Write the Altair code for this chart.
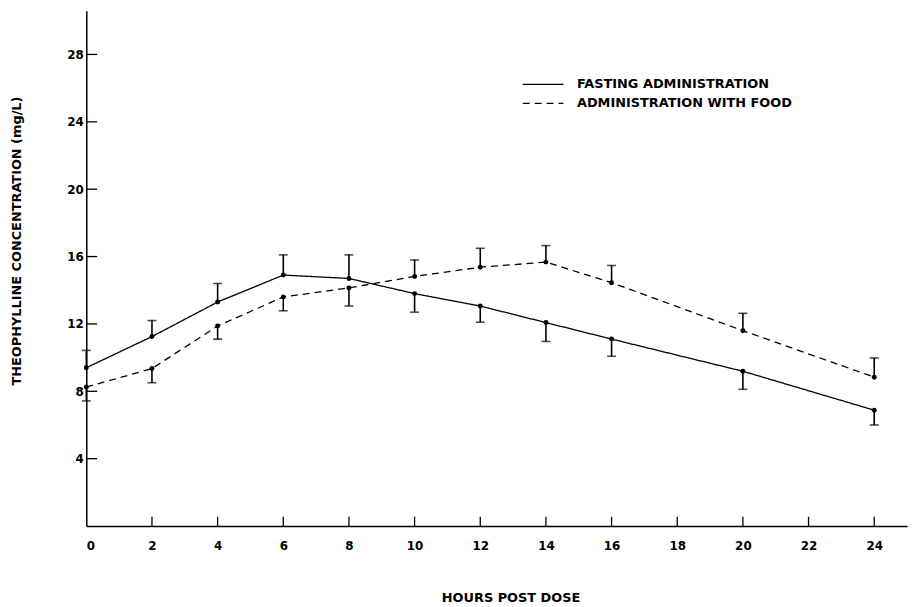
import altair as alt
import pandas as pd

# ---- data ----
hours = [0, 2, 4, 6, 8, 10, 12, 14, 16, 20, 24]
fasting = [9.4, 11.25, 13.3, 14.9, 14.7, 13.8, 13.06, 12.08, 11.1, 9.19, 6.88]
fasting_bar_end = [10.43, 12.2, 14.4, 16.1, 16.1, 12.7, 12.1, 10.96, 10.08, 8.12, 6.0]
food = [8.25, 9.35, 11.88, 13.6, 14.14, 14.82, 15.37, 15.67, 14.45, 11.6, 8.84]
food_bar_end = [7.43, 8.51, 11.1, 12.78, 13.06, 15.8, 16.49, 16.65, 15.47, 12.63, 9.98]

series_names = ["FASTING ADMINISTRATION", "ADMINISTRATION WITH FOOD"]
y_tick_values = [4, 8, 12, 16, 20, 24, 28]
x_tick_values = [2, 4, 6, 8, 10, 12, 14, 16, 18, 20, 22, 24]
x_label_values = [0] + x_tick_values

FONT = "DejaVu Sans"

rows = []
for h, m, e in zip(hours, fasting, fasting_bar_end):
    rows.append({"hours": h, "conc": m, "bar_end": e, "series": series_names[0]})
for h, m, e in zip(hours, food, food_bar_end):
    rows.append({"hours": h, "conc": m, "bar_end": e, "series": series_names[1]})
df = pd.DataFrame(rows)

ytick_df = pd.DataFrame({"v": y_tick_values, "x0": 0.0, "x1": 0.33})
xtick_df = pd.DataFrame({"v": x_tick_values, "y0": 0.0, "y1": 0.55})

xscale = alt.Scale(domain=[0, 25], nice=False, zero=False)
yscale = alt.Scale(domain=[0, 30.6], nice=False, zero=False)

x_axis = alt.Axis(
    values=x_label_values, tickSize=0, grid=False, labelPadding=15,
    domainColor="black", domainWidth=1.5,
    labelFont=FONT, labelFontWeight="bold", labelFontSize=12, labelColor="black",
    title="HOURS POST DOSE", titleFont=FONT, titleFontWeight="bold", titleFontSize=13,
    titleColor="black", titleX=428, titleY=66, titleAnchor="middle",
)
y_axis = alt.Axis(
    values=y_tick_values, tickSize=0, grid=False, labelPadding=3,
    domainColor="black", domainWidth=1.5,
    labelFont=FONT, labelFontWeight="bold", labelFontSize=12, labelColor="black",
    title="THEOPHYLLINE CONCENTRATION (mg/L)", titleFont=FONT, titleFontWeight="bold",
    titleFontSize=13, titleColor="black", titleX=-70, titleY=232, titleAngle=-90,
    titleAlign="center", titleBaseline="middle",
)

base = alt.Chart(df)

lines = base.mark_line(color="black", strokeWidth=1.3).encode(
    x=alt.X("hours:Q", scale=xscale, axis=x_axis),
    y=alt.Y("conc:Q", scale=yscale, axis=y_axis),
    strokeDash=alt.StrokeDash(
        "series:N",
        scale=alt.Scale(domain=series_names, range=[[1, 0], [7, 5]]),
        legend=alt.Legend(
            orient="none", legendX=439, legendY=68, title=None,
            symbolType="M-1,0H7", symbolSize=105, symbolStrokeColor="black",
            symbolFillColor="transparent",
            symbolStrokeWidth=1.3, labelFont=FONT, labelFontWeight="bold",
            labelFontSize=13, labelColor="black", labelOffset=43, labelLimit=400,
            rowPadding=5,
        ),
    ),
    detail="series:N",
)

points = base.mark_circle(color="black", size=25, opacity=1).encode(
    x=alt.X("hours:Q", scale=xscale), y=alt.Y("conc:Q", scale=yscale)
)

bars = base.mark_rule(color="black", strokeWidth=1.6).encode(
    x=alt.X("hours:Q", scale=xscale), y=alt.Y("conc:Q", scale=yscale), y2="bar_end:Q"
)

caps = base.mark_tick(color="black", orient="horizontal", size=9, thickness=1.6).encode(
    x=alt.X("hours:Q", scale=xscale), y=alt.Y("bar_end:Q", scale=yscale)
)

yticks = alt.Chart(ytick_df).mark_rule(color="black", strokeWidth=1.3).encode(
    x=alt.X("x0:Q", scale=xscale), x2="x1:Q", y=alt.Y("v:Q", scale=yscale)
)
xticks = alt.Chart(xtick_df).mark_rule(color="black", strokeWidth=1.3).encode(
    x=alt.X("v:Q", scale=xscale), y=alt.Y("y0:Q", scale=yscale), y2="y1:Q"
)

chart = alt.layer(lines, bars, caps, points, yticks, xticks).properties(
    width=828, height=520,
    autosize=alt.AutoSizeParams(type="none"),
    padding={"left": 79, "top": 0, "right": 4, "bottom": 79},
    background="white",
).configure_view(stroke=None)

chart.save("out.html", embed_options={"renderer": "svg", "actions": False})
